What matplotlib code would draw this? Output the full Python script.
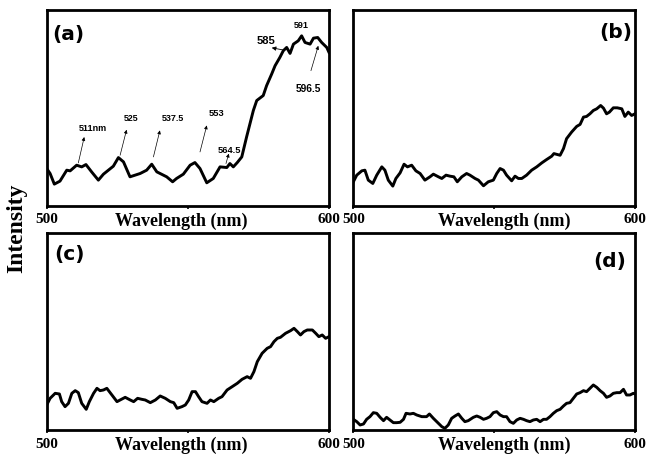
import numpy as np
import matplotlib.pyplot as plt

plt.rcParams['font.family'] = ['Liberation Serif', 'DejaVu Serif']

# Spektra (a)-(d): dlugosc fali [nm] i intensywnosc [j.u.]
wl_a = [500.0, 501.2, 502.7, 504.7, 507.1, 508.3, 510.6, 512.4, 513.9, 515.9, 518.3, 520.1,
        523.6, 525.4, 527.2, 529.5, 533.1, 535.4, 537.2, 539.0, 542.5, 544.6, 546.0, 548.4,
        550.8, 552.5, 554.3, 556.7, 559.0, 561.4, 563.8, 564.9, 566.1, 567.5, 569.1, 570.8,
        572.0, 573.2, 574.4, 576.7, 577.9, 579.7, 580.9, 582.6, 583.8, 585.0, 586.2, 587.4,
        589.1, 590.3, 591.5, 593.3, 594.5, 596.0, 597.4, 599.2, 600.0]
int_a = [112, 97, 65, 74, 107, 105, 122, 117, 124, 102, 77, 95,
         119, 145, 132, 87, 97, 107, 125, 102, 87, 72, 82, 95,
         122, 130, 112, 69, 82, 117, 115, 127, 117, 130, 147, 207,
         247, 287, 317, 332, 362, 397, 422, 447, 467, 477, 459, 487,
         497, 512, 492, 487, 505, 507, 492, 477, 462]

wl_b = [500.0, 501.2, 503.0, 504.1, 505.3, 506.9, 508.3, 510.1, 511.2, 512.4, 514.0, 515.1,
        516.6, 518.0, 519.2, 520.7, 522.2, 523.7, 525.4, 527.2, 528.4, 530.2, 531.4, 532.9,
        534.3, 535.7, 536.9, 538.5, 540.2, 541.4, 543.2, 544.4, 546.2, 547.9, 549.7, 550.9,
        552.1, 553.3, 554.4, 556.2, 557.4, 558.6, 559.8, 561.5, 563.3, 565.1, 566.9, 568.6,
        570.4, 571.2, 573.4, 574.6, 575.7, 577.5, 579.3, 580.5, 581.7, 582.8, 584.0, 585.2,
        586.4, 587.8, 588.8, 589.9, 590.9, 592.3, 593.7, 595.3, 596.4, 597.6, 598.8, 600.0]
int_b = [72, 92, 105, 107, 77, 67, 92, 117, 107, 77, 59, 82,
         99, 125, 117, 122, 105, 97, 77, 87, 95, 87, 82, 92,
         89, 87, 72, 87, 97, 92, 82, 77, 60, 72, 77, 97,
         112, 107, 92, 75, 89, 82, 82, 92, 107, 117, 129, 139,
         149, 157, 152, 172, 202, 222, 239, 245, 267, 269, 277, 287,
         292, 302, 294, 277, 282, 295, 295, 292, 269, 282, 272, 277]

wl_c = [500.0, 501.2, 503.0, 504.5, 505.3, 506.5, 507.7, 508.9, 510.1, 511.2, 512.4, 514.0,
        515.1, 516.6, 517.8, 518.9, 520.1, 521.3, 523.1, 524.9, 526.0, 527.8, 529.6, 530.8,
        532.2, 533.7, 534.9, 536.7, 538.5, 540.2, 542.0, 543.8, 545.0, 546.2, 547.9, 549.1,
        550.3, 551.5, 552.7, 553.8, 555.0, 556.8, 558.0, 559.2, 560.9, 562.1, 563.9, 565.7,
        567.5, 569.2, 571.0, 572.2, 573.4, 574.6, 576.3, 578.1, 579.3, 580.5, 581.7, 582.8,
        584.6, 586.4, 587.6, 588.8, 589.9, 591.1, 592.3, 594.1, 595.3, 596.4, 597.6, 598.8, 600.0]
int_c = [75, 95, 110, 108, 85, 70, 80, 110, 118, 112, 80, 62,
         85, 110, 125, 118, 120, 125, 105, 85, 90, 98, 90, 85,
         95, 92, 90, 82, 90, 102, 95, 85, 82, 65, 70, 75,
         90, 115, 115, 100, 85, 80, 90, 85, 95, 100, 120, 130,
         140, 152, 160, 155, 175, 205, 230, 245, 250, 265, 275, 278,
         290, 298, 305, 295, 285, 295, 300, 300, 290, 280, 285, 275, 280]

wl_d = [500.0, 501.2, 502.4, 503.6, 504.7, 505.9, 507.1, 508.3, 509.5, 510.7, 511.8, 513.0,
        514.2, 515.4, 516.6, 517.8, 518.7, 520.1, 521.3, 522.5, 524.3, 526.0, 527.0, 528.4,
        529.6, 531.4, 532.5, 533.7, 534.9, 536.1, 537.3, 538.5, 539.6, 540.8, 542.6, 543.8,
        545.0, 546.2, 547.3, 548.5, 549.7, 550.9, 552.1, 553.3, 554.4, 555.6, 556.8, 558.0,
        559.2, 560.4, 561.5, 562.7, 563.9, 565.1, 566.3, 567.5, 568.6, 569.8, 571.0, 572.2,
        573.4, 574.6, 575.7, 576.9, 578.1, 579.3, 580.5, 581.7, 582.8, 584.0, 585.2, 586.4,
        587.6, 588.8, 589.9, 591.1, 592.3, 593.5, 594.7, 595.9, 597.0, 598.2, 599.4, 600.0]
int_d = [32, 25, 15, 18, 32, 40, 52, 50, 38, 28, 38, 30,
         22, 22, 23, 32, 50, 48, 50, 45, 40, 40, 48, 35,
         25, 10, 5, 15, 35, 42, 48, 35, 25, 28, 38, 42,
         38, 32, 35, 40, 52, 55, 45, 40, 40, 25, 20, 30,
         35, 32, 28, 25, 30, 32, 25, 32, 32, 40, 50, 58,
         62, 72, 80, 82, 95, 108, 112, 118, 115, 125, 135, 128,
         118, 110, 98, 102, 110, 112, 112, 122, 105, 105, 110, 108]

# Opisy pikow na wykresie (a): tekst, pozycja tekstu, strzalka (od, do)
peak_labels = ['511nm', '525', '537.5', '553', '564.5', '596.5']
peak_text = [(516.5, 234), (529.8, 262), (544.6, 264), (560.0, 277), (564.9, 165), (592.7, 352)]
peak_size = [6.5, 6.3, 6.5, 6.7, 6.7, 7.3]
peak_tail = [(511.2, 129), (526.0, 152), (537.8, 147), (554.3, 162), (563.5, 127), (593.6, 407)]
peak_head = [(513.3, 207), (528.3, 229), (540.1, 227), (556.7, 242), (564.5, 157), (596.2, 482)]

fig = plt.figure(figsize=(6.46, 4.59), dpi=100)

panels = [
    (wl_a, int_a, '(a)', [0.0723, 0.5519, 0.437, 0.4264], (0.018, 0.877, 'left'), 0.476),
    (wl_b, int_b, '(b)', [0.547, 0.5519, 0.436, 0.4264], (0.989, 0.883, 'right'), 0.535),
    (wl_c, int_c, '(c)', [0.0723, 0.0632, 0.437, 0.4285], (0.028, 0.890, 'left'), 0.476),
    (wl_d, int_d, '(d)', [0.547, 0.0632, 0.436, 0.4285], (0.968, 0.856, 'right'), 0.535),
]

axes = []
for wl, inten, tag, rect, tagpos, labx in panels:
    ax = fig.add_axes(rect)
    ax.plot(wl, inten, color='black', lw=2.1)
    ax.set_xlim(500, 600)
    ax.set_ylim(0, 590)
    ax.set_yticks([])
    ax.set_xticks([500, 550, 600], labels=['500', '', '600'])
    ax.tick_params(axis='x', direction='out', length=2.5, width=1.2, pad=3,
                   labelsize=11)
    for lbl in ax.get_xticklabels():
        lbl.set_fontweight('bold')
    for sp in ax.spines.values():
        sp.set_linewidth(2)
    ax.set_xlabel('Wavelength (nm)', fontsize=13, fontweight='bold', va='center')
    ax.xaxis.set_label_coords(labx, -0.078)
    ax.text(tagpos[0], tagpos[1], tag, transform=ax.transAxes, ha=tagpos[2], va='center',
            fontsize=14.5, fontweight='bold', family=['DejaVu Sans'])
    axes.append(ax)

ax = axes[0]
for txt, tp, fs, tail, head in zip(peak_labels, peak_text, peak_size, peak_tail, peak_head):
    ax.annotate('', xy=head, xytext=tail,
                arrowprops=dict(arrowstyle='-|>', color='black', lw=0.5,
                                mutation_scale=5, shrinkA=0, shrinkB=0))
    ax.text(tp[0], tp[1], txt, ha='center', va='center', fontsize=fs, fontweight='bold',
            family=['Liberation Sans', 'DejaVu Sans'])
# strzalka 585 wskazuje na opis
ax.annotate('', xy=(579.7, 476), xytext=(584.0, 469),
            arrowprops=dict(arrowstyle='-|>', color='black', lw=0.6,
                            mutation_scale=6, shrinkA=0, shrinkB=0))
ax.text(577.6, 495, '585', ha='center', va='center', fontsize=8, fontweight='bold',
        family=['Liberation Sans', 'DejaVu Sans'])
ax.text(590.3, 542, '591', ha='center', va='center', fontsize=6.5, fontweight='bold',
        family=['Liberation Sans', 'DejaVu Sans'])

fig.text(0.026, 0.503, 'Intensity', rotation=90, ha='center', va='center',
         fontsize=17, fontweight='bold')

fig.savefig('out.png', dpi=100)
